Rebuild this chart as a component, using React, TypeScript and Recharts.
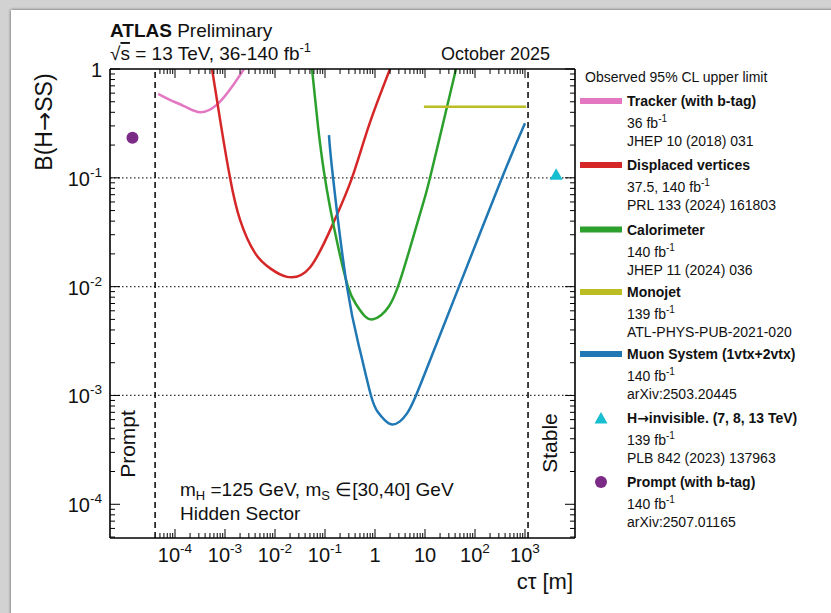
import React from "react";
import {
  ComposedChart,
  Line,
  Scatter,
  XAxis,
  YAxis,
  ReferenceLine,
} from "recharts";

const FONT = "'Liberation Sans', Arial, Helvetica, sans-serif";
const ARROW_FONT = "'DejaVu Sans', sans-serif";

// observed 95% CL limits on B(H->SS) versus proper decay length c*tau [m]
const trackerCtau = [4.6e-5, 7.9e-5, 1.6e-4, 3.2e-4, 6.9e-4, 1.45e-3, 2.4e-3];
const trackerLimit = [0.59, 0.52, 0.45, 0.4, 0.47, 0.71, 1.0];

const dvCtau = [5.5e-4, 8.3e-4, 1.26e-3, 2.0e-3, 4.0e-3, 7.9e-3, 1.74e-2, 5.0e-2, 0.145, 0.347, 0.76, 2.0];
const dvLimit = [1.0, 0.305, 0.1, 0.041, 0.0203, 0.0148, 0.0123, 0.015, 0.038, 0.1, 0.305, 1.0];

const caloCtau = [0.055, 0.0724, 0.0955, 0.126, 0.182, 0.288, 0.417, 0.631, 0.912, 1.318, 1.905, 2.88, 5.01, 8.71, 12.6, 27.5, 41.7];
const caloLimit = [1.0, 0.299, 0.113, 0.0537, 0.0235, 0.01, 0.00689, 0.00534, 0.00501, 0.00546, 0.0066, 0.01, 0.0226, 0.0537, 0.1, 0.447, 1.0];

const monojetCtau = [9.5, 1050];
const monojetLimit = [0.45, 0.45];

const muonCtau = [0.12, 0.145, 0.275, 0.5, 0.83, 1.148, 1.585, 2.19, 3.16, 4.37, 6.6, 15.1, 47.9, 347, 1000];
const muonLimit = [0.247, 0.1, 0.01, 0.0026, 0.001, 0.0007, 0.00059, 0.000542, 0.000578, 0.000684, 0.001, 0.0026, 0.01, 0.1, 0.318];

const invisibleCtau = [4.2e3];
const invisibleLimit = [0.108];

const promptCtau = [1.41e-5];
const promptLimit = [0.234];

// region boundaries
const promptEdge = 4e-5;
const stableEdge = 1.15e3;

const xDecades = [1e-4, 1e-3, 1e-2, 1e-1, 1, 10, 1e2, 1e3];
const xDecadeLabels = [["10", "-4"], ["10", "-3"], ["10", "-2"], ["10", "-1"], ["1", ""], ["10", ""], ["10", "2"], ["10", "3"]];
const yDecades = [1e-4, 1e-3, 1e-2, 1e-1, 1];
const yDecadeLabels = [["10", "-4"], ["10", "-3"], ["10", "-2"], ["10", "-1"], ["1", ""]];
const gridLevels = [1e-3, 1e-2, 1e-1];

const X_DOMAIN = [Math.pow(10, -5.3), 1e4];
const Y_DOMAIN = [4.9e-5, 1];

const C = {
  tracker: "#e377c2",
  dv: "#d62728",
  calo: "#2ca02c",
  monojet: "#bcbd22",
  muon: "#1f77b4",
  invisible: "#17becf",
  prompt: "#7b2a86",
};

const pts = (xs: number[], ys: number[]) => xs.map((x, i) => ({ x, y: ys[i] }));

// 1..9 x 10^k between lo and hi
const logTicks = (lo: number, hi: number) => {
  const out: number[] = [];
  for (let e = -6; e <= 4; e++) {
    for (let m = 1; m <= 9; m++) {
      const v = m * Math.pow(10, e);
      if (v >= lo * 0.999 && v <= hi * 1.001) out.push(v);
    }
  }
  return out;
};
const xTicks = logTicks(5e-5, 1e3);
const yTicks = logTicks(5e-5, 1);

const decadeIndex = (list: number[], v: number) =>
  list.findIndex((d) => Math.abs(v / d - 1) < 1e-6);

const Pow = ({ x, y, anchor, base, exp, size }: any) => (
  <text x={x} y={y} textAnchor={anchor} fontFamily={FONT} fontSize={size} fill="#111">
    {base}
    {exp ? (
      <tspan dy={-size * 0.45} fontSize={size * 0.68}>
        {exp}
      </tspan>
    ) : null}
  </text>
);

const BottomTick = (props: any) => {
  const { x, y, payload } = props;
  const i = decadeIndex(xDecades, payload.value);
  return (
    <g>
      <line x1={x} y1={y} x2={x} y2={y - (i >= 0 ? 9 : 5)} stroke="#000" strokeWidth={1} />
      {i >= 0 && <Pow x={x} y={y + 24} anchor="middle" base={xDecadeLabels[i][0]} exp={xDecadeLabels[i][1]} size={20} />}
    </g>
  );
};

const TopTick = (props: any) => {
  const { x, y, payload } = props;
  const i = decadeIndex(xDecades, payload.value);
  return <line x1={x} y1={y} x2={x} y2={y + (i >= 0 ? 9 : 5)} stroke="#000" strokeWidth={1} />;
};

const LeftTick = (props: any) => {
  const { x, y, payload } = props;
  const i = decadeIndex(yDecades, payload.value);
  return (
    <g>
      <line x1={x} y1={y} x2={x + (i >= 0 ? 10 : 5)} y2={y} stroke="#000" strokeWidth={1} />
      {i >= 0 && <Pow x={x - 8} y={y + 8} anchor="end" base={yDecadeLabels[i][0]} exp={yDecadeLabels[i][1]} size={20} />}
    </g>
  );
};

const RightTick = (props: any) => {
  const { x, y, payload } = props;
  const i = decadeIndex(yDecades, payload.value);
  return <line x1={x} y1={y} x2={x - (i >= 0 ? 10 : 5)} y2={y} stroke="#000" strokeWidth={1} />;
};

const legendEntries = [
  { kind: "line", color: C.tracker, title: ["Tracker (with b-tag)"], lumi: "36 fb", ref: "JHEP 10 (2018) 031", yc: 101 },
  { kind: "line", color: C.dv, title: ["Displaced vertices"], lumi: "37.5, 140 fb", ref: "PRL 133 (2024) 161803", yc: 165 },
  { kind: "line", color: C.calo, title: ["Calorimeter"], lumi: "140 fb", ref: "JHEP 11 (2024) 036", yc: 229.5 },
  { kind: "line", color: C.monojet, title: ["Monojet"], lumi: "139 fb", ref: "ATL-PHYS-PUB-2021-020", yc: 292 },
  { kind: "line", color: C.muon, title: ["Muon System (1vtx+2vtx)"], lumi: "140 fb", ref: "arXiv:2503.20445", yc: 354 },
  { kind: "triangle", color: C.invisible, title: ["H", "invisible. (7, 8, 13 TeV)"], lumi: "139 fb", ref: "PLB 842 (2023) 137963", yc: 418 },
  { kind: "circle", color: C.prompt, title: ["Prompt (with b-tag)"], lumi: "140 fb", ref: "arXiv:2507.01165", yc: 482 },
];

const Triangle = ({ cx, cy, color }: any) => (
  <polygon points={`${cx},${cy - 6} ${cx - 6.5},${cy + 5.5} ${cx + 6.5},${cy + 5.5}`} fill={color} />
);

const Arrow = () => <tspan fontFamily={ARROW_FONT}>{"\u2192"}</tspan>;

const Overlay = () => (
  <svg width={831} height={613} style={{ position: "absolute", left: 0, top: 0, pointerEvents: "none" }}>
    <g fontFamily={FONT} fill="#111">
      <text x={110} y={37} fontSize={19}>
        <tspan fontWeight="bold">ATLAS</tspan> Preliminary
      </text>
      <text x={110} y={60} fontSize={19}>
        {"\u221A"}
        <tspan textDecoration="overline">s</tspan>
        {" = 13 TeV, 36-140 fb"}
        <tspan dy={-8} fontSize={13}>-1</tspan>
      </text>
      <text x={550} y={60} fontSize={18} textAnchor="end">October 2025</text>
      <text transform="translate(52,122) rotate(-90)" fontSize={23} textAnchor="middle">
        B(H<Arrow />SS)
      </text>
      <text x={573} y={589} fontSize={22} textAnchor="end">{"c\u03C4 [m]"}</text>
      <text transform="translate(135,444) rotate(-90)" fontSize={21} textAnchor="middle">Prompt</text>
      <text transform="translate(557,443) rotate(-90)" fontSize={21} textAnchor="middle">Stable</text>
      <text x={180} y={496} fontSize={19}>
        m<tspan dy={4} fontSize={13}>H</tspan>
        <tspan dy={-4}>{" =125 GeV, m"}</tspan>
        <tspan dy={4} fontSize={13}>S</tspan>
        <tspan dy={-4}>{" \u2208[30,40] GeV"}</tspan>
      </text>
      <text x={180} y={520} fontSize={19}>Hidden Sector</text>

      <text x={585} y={82} fontSize={14}>Observed 95% CL upper limit</text>
      {legendEntries.map((e) => (
        <g key={e.ref}>
          {e.kind === "line" && <rect x={580} y={e.yc - 3} width={42} height={6} fill={e.color} />}
          {e.kind === "triangle" && <Triangle cx={601} cy={e.yc} color={e.color} />}
          {e.kind === "circle" && <circle cx={601} cy={e.yc} r={6} fill={e.color} />}
          <text x={627} y={e.yc + 5} fontSize={14} fontWeight="bold">
            {e.title[0]}
            {e.title.length > 1 && <Arrow />}
            {e.title.length > 1 && e.title[1]}
          </text>
          <text x={627} y={e.yc + 27} fontSize={14}>
            {e.lumi}
            <tspan dy={-6} fontSize={10}>-1</tspan>
          </text>
          <text x={627} y={e.yc + 45} fontSize={14}>{e.ref}</text>
        </g>
      ))}
    </g>
  </svg>
);

const axisLine = { stroke: "#000", strokeWidth: 1.6 };

const App = () => {
  return (
    <div style={{ position: "absolute", left: 0, top: 0, width: 831, height: 613, background: "#d2d2d2", overflow: "hidden" }}>
      <div style={{ position: "absolute", left: 11, top: 10, width: 831, height: 613, background: "#fff", boxShadow: "0 0 3px rgba(0,0,0,0.6)" }} />
      <div style={{ position: "absolute", left: 0, top: 0 }}>
        <ComposedChart width={831} height={613} margin={{ top: 68, right: 255, bottom: 0, left: 0 }}>
          <XAxis xAxisId="b" type="number" dataKey="x" scale="log" domain={X_DOMAIN} allowDataOverflow
            ticks={xTicks} interval={0} tickSize={0} tickMargin={0} tickLine={false} tick={BottomTick}
            height={75} axisLine={axisLine} />
          <XAxis xAxisId="t" orientation="top" type="number" dataKey="x" scale="log" domain={X_DOMAIN} allowDataOverflow
            ticks={xTicks} interval={0} tickSize={0} tickMargin={0} tickLine={false} tick={TopTick}
            height={1} axisLine={axisLine} />
          <YAxis yAxisId="l" type="number" dataKey="y" scale="log" domain={Y_DOMAIN} allowDataOverflow
            ticks={yTicks} interval={0} tickSize={0} tickMargin={0} tickLine={false} tick={LeftTick}
            width={110} axisLine={axisLine} />
          <YAxis yAxisId="r" orientation="right" type="number" dataKey="y" scale="log" domain={Y_DOMAIN} allowDataOverflow
            ticks={yTicks} interval={0} tickSize={0} tickMargin={0} tickLine={false} tick={RightTick}
            width={1} axisLine={axisLine} />

          {gridLevels.map((v) => (
            <ReferenceLine key={v} xAxisId="b" yAxisId="l" y={v} stroke="#333" strokeWidth={1.3} strokeDasharray="1.5 2.5" />
          ))}
          <ReferenceLine xAxisId="b" yAxisId="l" x={promptEdge} stroke="#111" strokeWidth={1.6} strokeDasharray="6 4" />
          <ReferenceLine xAxisId="b" yAxisId="l" x={stableEdge} stroke="#111" strokeWidth={1.6} strokeDasharray="6 4" />

          <Line xAxisId="b" yAxisId="l" data={pts(trackerCtau, trackerLimit)} dataKey="y" type="natural" stroke={C.tracker} strokeWidth={2.5} dot={false} isAnimationActive={false} />
          <Line xAxisId="b" yAxisId="l" data={pts(dvCtau, dvLimit)} dataKey="y" type="natural" stroke={C.dv} strokeWidth={2.5} dot={false} isAnimationActive={false} />
          <Line xAxisId="b" yAxisId="l" data={pts(caloCtau, caloLimit)} dataKey="y" type="natural" stroke={C.calo} strokeWidth={2.5} dot={false} isAnimationActive={false} />
          <Line xAxisId="b" yAxisId="l" data={pts(monojetCtau, monojetLimit)} dataKey="y" type="linear" stroke={C.monojet} strokeWidth={2.5} dot={false} isAnimationActive={false} />
          <Line xAxisId="b" yAxisId="l" data={pts(muonCtau, muonLimit)} dataKey="y" type="natural" stroke={C.muon} strokeWidth={2.5} dot={false} isAnimationActive={false} />
          <Scatter xAxisId="b" yAxisId="l" data={pts(invisibleCtau, invisibleLimit)} dataKey="y" isAnimationActive={false}
            shape={(p: any) => <Triangle cx={p.cx} cy={p.cy} color={C.invisible} />} />
          <Scatter xAxisId="b" yAxisId="l" data={pts(promptCtau, promptLimit)} dataKey="y" isAnimationActive={false}
            shape={(p: any) => <circle cx={p.cx} cy={p.cy} r={6} fill={C.prompt} />} />
        </ComposedChart>
      </div>
      <Overlay />
    </div>
  );
};

export default App;
